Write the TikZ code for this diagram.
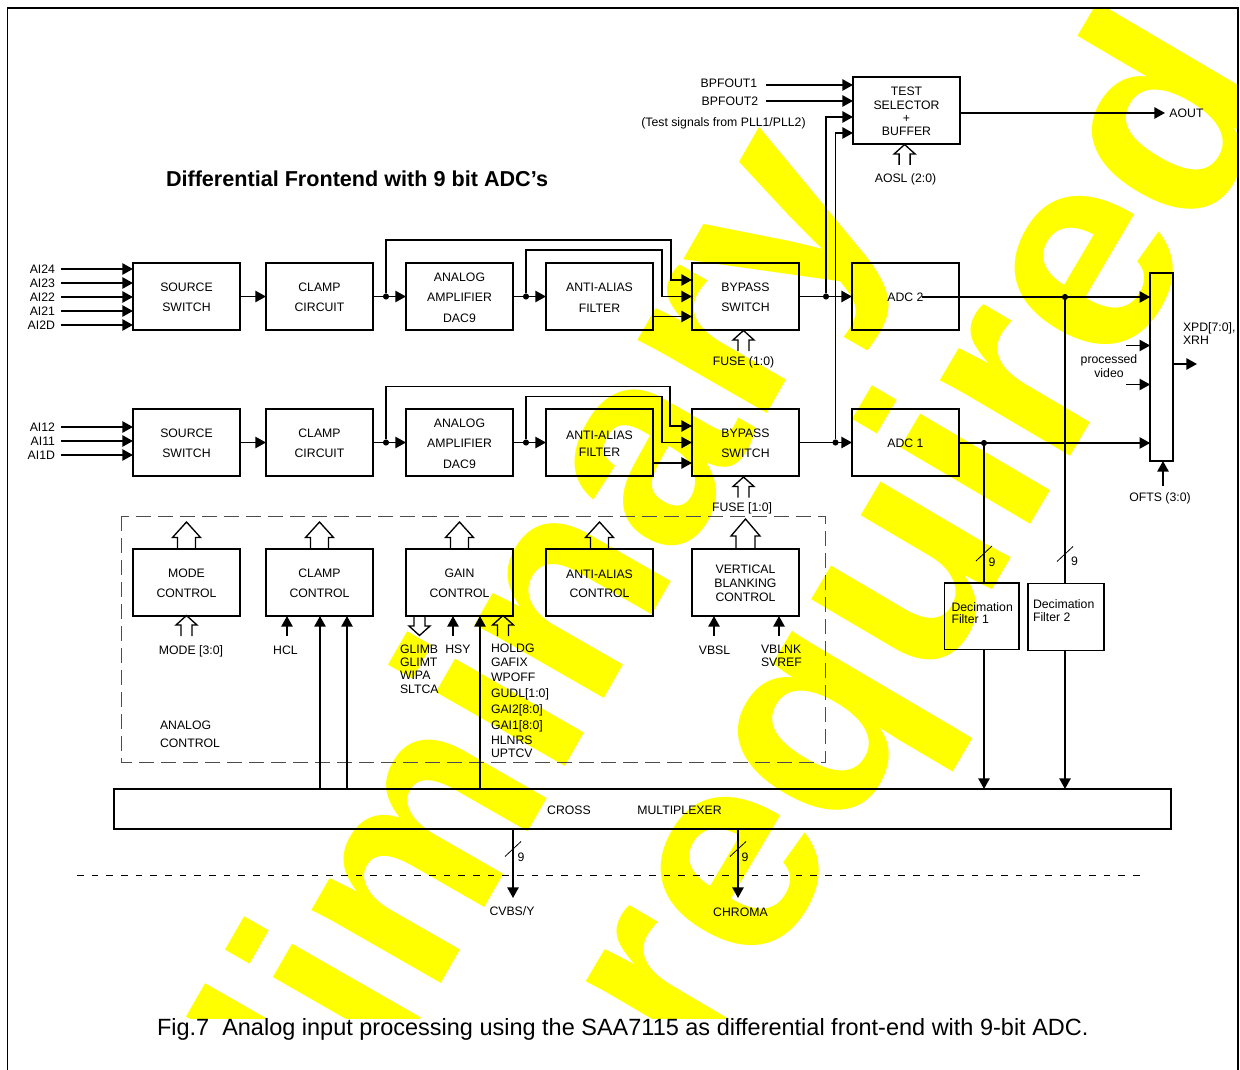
\documentclass[tikz,border=0pt]{standalone}
\usepackage{fontspec}
\setmainfont{Liberation Sans}
\usetikzlibrary{arrows.meta,positioning}
\definecolor{stampyellow}{RGB}{255,255,0}
\tikzstyle{blockbox} = [draw=black, line width=1.1pt, rectangle, minimum width=80.25pt,
    minimum height=50.25pt, inner sep=0pt, outer sep=0pt, align=center,
    text height=\dimexpr\ht\pgfnodeparttextbox+1.5pt\relax,
    font=\fontsize{9.2}{15.4}\selectfont]
\tikzstyle{lbl} = [inner sep=0pt, outer sep=0pt, text depth=0pt,
    font=\fontsize{9.2}{10}\selectfont]
\tikzstyle{sig} = [line width=1.25pt, -{Triangle[length=8pt,width=8.5pt]}]
\tikzstyle{wire} = [line width=1.25pt]
\tikzstyle{jdot} = [circle, fill=black, inner sep=0pt, minimum size=4.6pt]
\tikzstyle{slash} = [line width=0.6pt]
\tikzstyle{hollow} = [line width=1pt, line join=miter]
\tikzstyle{stamp} = [inner sep=0pt, anchor=base west, rotate=59.5, text=stampyellow,
    font=\fontsize{214}{214}\bfseries\selectfont]
\def\bigblock{
    \draw[hollow] (-9,0) -- (-9,-11.5) -- (-14,-11.5) -- (0,-27) -- (14,-11.5) -- (9,-11.5) -- (9,0);
}
\def\tallblock{
    \draw[hollow] (-9.5,0) -- (-9.5,-13) -- (-14.5,-13) -- (0,-30) -- (14.5,-13) -- (9.5,-13) -- (9.5,0);
}
\def\smallblock{
    \draw[hollow] (-5.5,0) -- (-5.5,-11) -- (-10.5,-11) -- (0,-20.5) -- (10.5,-11) -- (5.5,-11) -- (5.5,0);
}
\def\downblock{
    \draw[hollow] (-5.5,0) -- (-5.5,10) -- (-10.5,10) -- (0,19.5) -- (10.5,10) -- (5.5,10) -- (5.5,0);
}

\begin{document}
\begin{tikzpicture}[x=0.75pt,y=-0.75pt]
\useasboundingbox (0,0) rectangle (1240,1070);

% stamp behind everything
\begin{scope}
\clip (8,9) rectangle (1238,1018);
\node[stamp, rotate=0.7, font=\fontsize{211}{211}\bfseries\selectfont] (stampone) at (128,1529.7) {Preliminary};
\node[stamp] (stamptwo) at (706.6,1074.5) {required};
\end{scope}

% page frame
\draw[line width=1.1pt] (7.5,1070) -- (7.5,8) -- (1238,8) -- (1238,1070);

\node[lbl, anchor=west, font=\fontsize{16.2}{18}\bfseries\selectfont] (title) at (166,179) {Differential Frontend with 9 bit ADC’s};
\node[lbl, anchor=west, font=\fontsize{17.62}{20}\selectfont] (caption) at (157,1027) {Fig.7\ \ Analog input processing using the SAA7115 as differential front-end with 9-bit ADC.};

% channel 2
\node[blockbox] (sourcetwo) at (186.5,296.5) {SOURCE\\SWITCH};
\node[blockbox, right=19.5pt] at (sourcetwo.east) (clamptwo) {CLAMP\\CIRCUIT};
\node[blockbox, right=24.75pt] at (clamptwo.east) (amptwo) {ANALOG\\AMPLIFIER\\DAC9};
\node[blockbox, right=24.75pt] at (amptwo.east) (filtertwo) {ANTI-ALIAS\\FILTER};
\node[blockbox, right=29.25pt] at (filtertwo.east) (bypasstwo) {BYPASS\\SWITCH};
\node[blockbox, right=39.75pt] at (bypasstwo.east) (adctwo) {\raisebox{-2pt}{ADC 2}};

% channel 1
\node[blockbox] (sourceone) at (186.5,442.5) {SOURCE\\SWITCH};
\node[blockbox, right=19.5pt] at (sourceone.east) (clampone) {CLAMP\\CIRCUIT};
\node[blockbox, right=24.75pt] at (clampone.east) (ampone) {ANALOG\\AMPLIFIER\\DAC9};
\node[blockbox, right=24.75pt, font=\fontsize{9.2}{12.75}\selectfont] at (ampone.east) (filterone) {ANTI-ALIAS\\FILTER};
\node[blockbox, right=29.25pt] at (filterone.east) (bypassone) {BYPASS\\SWITCH};
\node[blockbox, right=39.75pt] at (bypassone.east) (adcone) {\raisebox{-2pt}{ADC 1}};

% control row
\node[blockbox] (modectl) at (186.5,582.5) {MODE\\CONTROL};
\node[blockbox, right=19.5pt] at (modectl.east) (clampctl) {CLAMP\\CONTROL};
\node[blockbox, right=24.75pt] at (clampctl.east) (gainctl) {GAIN\\CONTROL};
\node[blockbox, right=24.75pt, font=\fontsize{9.2}{14.25}\selectfont] at (gainctl.east) (filterctl) {ANTI-ALIAS\\CONTROL};
\node[blockbox, right=29.25pt, font=\fontsize{9.2}{10.5}\selectfont] at (filterctl.east) (blankctl) {VERTICAL\\BLANKING\\CONTROL};

% test selector, output bar, filters, cross multiplexer
\node[blockbox, font=\fontsize{9.2}{10}\selectfont] (testsel) at (906.5,110.5) {TEST\\SELECTOR\\+\\BUFFER};
\node[blockbox, minimum width=17pt, minimum height=141pt] (outbar) at (1161.5,367) {};
\node[blockbox, minimum width=55.9pt, minimum height=49.9pt] (decione) at (981.8,616.2) {};
\node[blockbox, minimum width=57pt, minimum height=49.9pt] (decitwo) at (1066,617) {};
\node[blockbox, minimum width=792.75pt, minimum height=30pt] (cross) at (642.5,809) {};
\node[lbl] (crosstext) at (569,810) {CROSS};
\node[lbl] (muxtext) at (679.5,810) {MULTIPLEXER};
\node[lbl, anchor=west] (decionea) at (951.5,607) {Decimation};
\node[lbl, anchor=west] (deciones) at (951.5,619) {Filter 1};
\node[lbl, anchor=west] (decitwoa) at (1033,604) {Decimation};
\node[lbl, anchor=west] (decitwob) at (1033,617) {Filter 2};

% dashed outlines
\draw[dashed, dash pattern=on 11pt off 5.5pt, line width=0.6pt, draw=black!70] (121,516) rectangle (825,762);
\draw[dashed, dash pattern=on 5pt off 6pt, line width=0.7pt] (77,875) -- (1145,875);

% inputs channel 2
\node[lbl, anchor=east] (aitwofour) at (55,269) {AI24};
\node[lbl, anchor=east] (aitwothree) at (55,283) {AI23};
\node[lbl, anchor=east] (aitwotwo) at (55,297) {AI22};
\node[lbl, anchor=east] (aitwoone) at (55,311) {AI21};
\node[lbl, anchor=east] (aitwod) at (55,325) {AI2D};
\coordinate (ina) at (61,269);
\coordinate (inb) at (61,283);
\coordinate (inc) at (61,297);
\coordinate (ind) at (61,311);
\coordinate (ine) at (61,325);
\draw[sig] (ina) -- (ina -| sourcetwo.west);
\draw[sig] (inb) -- (inb -| sourcetwo.west);
\draw[sig] (inc) -- (inc -| sourcetwo.west);
\draw[sig] (ind) -- (ind -| sourcetwo.west);
\draw[sig] (ine) -- (ine -| sourcetwo.west);

% inputs channel 1
\node[lbl, anchor=east] (aionetwo) at (55,427) {AI12};
\node[lbl, anchor=east] (aioneone) at (55,441) {AI11};
\node[lbl, anchor=east] (aioned) at (55,455) {AI1D};
\coordinate (inf) at (61,427);
\coordinate (ing) at (61,441);
\coordinate (inh) at (61,455);
\draw[sig] (inf) -- (inf -| sourceone.west);
\draw[sig] (ing) -- (ing -| sourceone.west);
\draw[sig] (inh) -- (inh -| sourceone.west);

% chain channel 2
\draw[sig] (sourcetwo) -- (clamptwo);
\draw[sig] (clamptwo) -- (amptwo);
\draw[sig] (amptwo) -- (filtertwo);
\draw[sig] (bypasstwo) -- (adctwo);
\node[jdot] (jclamptwo) at (386,296.5) {};
\node[jdot] (jamptwo) at (526,296.5) {};
\node[jdot] (jbypasstwo) at (826,296.5) {};
\node[jdot] (jadctwo) at (1065,297) {};
\coordinate (hitwoa) at (671,240);
\coordinate (hitwob) at (662,250);
\coordinate (bytwoa) at (692,280);
\coordinate (bytwob) at (692,296.5);
\coordinate (bytwoc) at (692,316.5);
\draw[sig] (jclamptwo) |- (hitwoa) |- (bytwoa);
\draw[sig] (jamptwo) |- (hitwob) |- (bytwob);
\draw[sig] (bytwoc -| filtertwo.east) -- (bytwoc);

% chain channel 1
\draw[sig] (sourceone) -- (clampone);
\draw[sig] (clampone) -- (ampone);
\draw[sig] (ampone) -- (filterone);
\draw[sig] (bypassone) -- (adcone);
\node[jdot] (jclampone) at (386,442.5) {};
\node[jdot] (jampone) at (526,442.5) {};
\node[jdot] (jbypassone) at (835.5,442.5) {};
\node[jdot] (jadcone) at (984,443) {};
\coordinate (hionea) at (670,386.5);
\coordinate (hioneb) at (662,396.5);
\coordinate (byonea) at (692,426);
\coordinate (byoneb) at (692,442.5);
\coordinate (byonec) at (692,463);
\draw[sig] (jclampone) |- (hionea) |- (byonea);
\draw[sig] (jampone) |- (hioneb) |- (byoneb);
\draw[sig] (byonec -| filterone.east) -- (byonec);

% test selector
\node[lbl] (bpfone) at (729,83) {BPFOUT1};
\node[lbl] (bpftwo) at (730,101) {BPFOUT2};
\node[lbl] (testnote) at (723.5,122) {(Test signals from PLL1/PLL2)};
\node[lbl] (aout) at (1186.5,113) {AOUT};
\node[lbl] (aosl) at (905.5,178) {AOSL (2:0)};
\coordinate (bpfa) at (766,85);
\coordinate (bpfb) at (766,101);
\coordinate (tsta) at (853,117);
\coordinate (tstb) at (853,133);
\draw[sig] (bpfa) -- (bpfa -| testsel.west);
\draw[sig] (bpfb) -- (bpfb -| testsel.west);
\draw[sig] (jbypasstwo) |- (tsta);
\draw[sig] (jbypassone) |- (tstb);
\coordinate (aoutend) at (1165,113);
\draw[sig] (aoutend -| testsel.east) -- (aoutend);
\begin{scope}[shift={(904.6,165)}]
\smallblock
\end{scope}

% adc to output bar
\coordinate (adctwoout) at (922,297);
\coordinate (adconeout) at (959,443);
\draw[sig] (adctwoout) -- (adctwoout -| outbar.west);
\draw[sig] (adconeout) -- (adconeout -| outbar.west);
\coordinate (pva) at (1126,345.5);
\coordinate (pvb) at (1126,384.5);
\draw[sig] (pva) -- (pva -| outbar.west);
\draw[sig] (pvb) -- (pvb -| outbar.west);
\node[lbl, anchor=center] (pvtexta) at (1109,359) {processed};
\node[lbl, anchor=center] (pvtextb) at (1109,373) {video};
\coordinate (xpdend) at (1197,364);
\draw[sig] (xpdend -| outbar.east) -- (xpdend);
\node[lbl, anchor=west] (xpda) at (1183,327) {XPD[7:0],};
\node[lbl, anchor=west] (xpdb) at (1183,340) {XRH};
\coordinate (oftsin) at (1163,486);
\draw[sig] (oftsin) -- (oftsin |- outbar.south);
\node[lbl] (ofts) at (1160,497) {OFTS (3:0)};

% filters to cross
\draw[wire] (jadcone) -- (jadcone |- decione.north);
\draw[wire] (jadctwo) -- (jadctwo |- decitwo.north);
\draw[sig] (jadcone |- decione.south) -- (jadcone |- cross.north);
\draw[sig] (jadctwo |- decitwo.south) -- (jadctwo |- cross.north);
\coordinate (slone) at (984,553.5);
\coordinate (sltwo) at (1065,554);
\draw[slash] ([shift={(-8,7.5)}]slone) -- ([shift={(8,-7.5)}]slone);
\draw[slash] ([shift={(-8,7.5)}]sltwo) -- ([shift={(8,-7.5)}]sltwo);
\node[lbl] (nineone) at (992,562) {9};
\node[lbl] (ninetwo) at (1074.5,561) {9};

% fuses
\node[lbl] (fusetwo) at (743.5,361) {FUSE (1:0)};
\node[lbl] (fuseone) at (742,507) {FUSE [1:0]};
\begin{scope}[shift={(743.5,351)}]
\smallblock
\end{scope}
\begin{scope}[shift={(743.5,497.5)}]
\smallblock
\end{scope}

% up to the channels
\begin{scope}[shift={(modectl.north)}]
\bigblock
\end{scope}
\begin{scope}[shift={(clampctl.north)}]
\bigblock
\end{scope}
\begin{scope}[shift={(gainctl.north)}]
\bigblock
\end{scope}
\begin{scope}[shift={(filterctl.north)}]
\bigblock
\end{scope}
\begin{scope}[shift={(blankctl.north)}]
\tallblock
\end{scope}

% inputs of the control blocks
\node[lbl] (modein) at (191,650) {MODE [3:0]};
\begin{scope}[shift={(186.5,636)}]
\smallblock
\end{scope}
\node[lbl] (hcl) at (285.5,650) {HCL};
\coordinate (hclin) at (287,636);
\draw[sig] (hclin) -- (hclin |- clampctl.south);
\coordinate (xaclamp) at (320,789);
\coordinate (xbclamp) at (347,789);
\draw[sig] (xaclamp) -- (xaclamp |- clampctl.south);
\draw[sig] (xbclamp) -- (xbclamp |- clampctl.south);
\coordinate (xbgain) at (480,789);
\draw[sig] (xbgain) -- (xbgain |- gainctl.south);
\begin{scope}[shift={(419.5,616)}]
\downblock
\end{scope}
\coordinate (hsyin) at (453,636);
\draw[sig] (hsyin) -- (hsyin |- gainctl.south);
\begin{scope}[shift={(503,636)}]
\smallblock
\end{scope}
\node[lbl, anchor=west] (glimb) at (400,649) {GLIMB};
\node[lbl, anchor=west] (glimt) at (400,662) {GLIMT};
\node[lbl, anchor=west] (wipa) at (400,675) {WIPA};
\node[lbl, anchor=west] (sltca) at (400,689) {SLTCA};
\node[lbl] (hsy) at (458,649) {HSY};
\node[lbl, anchor=west] (holdg) at (491,648) {HOLDG};
\node[lbl, anchor=west] (gafix) at (491,662.5) {GAFIX};
\node[lbl, anchor=west] (wpoff) at (491,677) {WPOFF};
\node[lbl, anchor=west] (gudl) at (491,693) {GUDL[1:0]};
\node[lbl, anchor=west] (gaitwo) at (491,709) {GAI2[8:0]};
\node[lbl, anchor=west] (gaione) at (491,725) {GAI1[8:0]};
\node[lbl, anchor=west] (hlnrs) at (491,740) {HLNRS};
\node[lbl, anchor=west] (uptcv) at (491,753) {UPTCV};
\coordinate (vbslin) at (714,636);
\coordinate (vblnkin) at (779,636);
\draw[sig] (vbslin) -- (vbslin |- blankctl.south);
\draw[sig] (vblnkin) -- (vblnkin |- blankctl.south);
\node[lbl] (vbsl) at (714.5,650) {VBSL};
\node[lbl, anchor=west] (vblnk) at (761,649) {VBLNK};
\node[lbl, anchor=west] (svref) at (761,662.5) {SVREF};
\node[lbl, anchor=west] (analoga) at (160,725) {ANALOG};
\node[lbl, anchor=west] (analogb) at (160,743) {CONTROL};

% outputs of the cross multiplexer
\coordinate (cvbsend) at (513,898);
\coordinate (chromaend) at (738,898);
\draw[sig] (cvbsend |- cross.south) -- (cvbsend);
\draw[sig] (chromaend |- cross.south) -- (chromaend);
\coordinate (slcvbs) at (513,849);
\coordinate (slchroma) at (738,849);
\draw[slash] ([shift={(-8,7.5)}]slcvbs) -- ([shift={(8,-7.5)}]slcvbs);
\draw[slash] ([shift={(-8,7.5)}]slchroma) -- ([shift={(8,-7.5)}]slchroma);
\node[lbl] (ninecvbs) at (521,857) {9};
\node[lbl] (ninechroma) at (745,857) {9};
\node[lbl] (cvbs) at (512,911.5) {CVBS/Y};
\node[lbl] (chroma) at (740.5,912.5) {CHROMA};
\end{tikzpicture}
\end{document}
